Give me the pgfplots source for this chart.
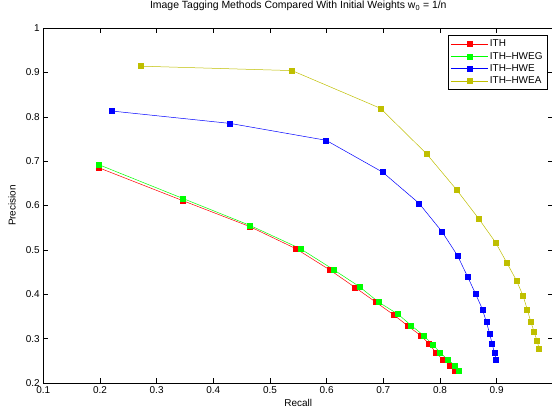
\documentclass[border=0pt]{standalone}
\usepackage{pgfplots}
\pgfplotsset{compat=1.18}
\usepackage{fontspec}
\setmainfont{Liberation Sans}
\definecolor{mlred}{RGB}{255,0,0}
\definecolor{mlgreen}{RGB}{0,255,0}
\definecolor{mlblue}{RGB}{0,0,255}
\definecolor{mlyellow}{RGB}{191,191,0}

\begin{document}
\begin{tikzpicture}
\begin{axis}[
    at={(0,0)}, anchor=south west,
    width=510bp, height=355bp,
    scale only axis,
    xmin=0.1, xmax=1, ymin=0.2, ymax=1,
    xtick={0.1,0.2,0.3,0.4,0.5,0.6,0.7,0.8,0.9},
    ytick={0.2,0.3,0.4,0.5,0.6,0.7,0.8,0.9,1},
    tick align=inside,
    major tick length=5bp,
    axis line style={line width=0.6pt},
    tick style={black, line width=0.5pt},
    /pgf/number format/assume math mode=true,
    tick label style={font=\fontsize{10}{12}\selectfont},
    label style={font=\fontsize{10}{12}\selectfont},
    title style={font=\fontsize{10.5}{12}\selectfont, at={(axis description cs:0.5,1.045)}, anchor=center},
    title={Image Tagging Methods Compared With Initial Weights w\textsubscript{0} = 1/n},
    xlabel={Recall},
    ylabel={Precision},
    xlabel style={at={(axis description cs:0.5,-0.056)}, anchor=center},
    ylabel style={at={(axis description cs:-0.061,0.5)}, anchor=center},
    legend style={at={(1,1)}, anchor=north east, xshift=-6bp, yshift=-7bp,
        font=\fontsize{10}{11}\selectfont, draw=black, line width=0.6pt,
        row sep=0pt, inner sep=2.5pt},
    legend cell align=left,
    legend image code/.code={%
        \draw[mark repeat=2, mark phase=2]
            plot coordinates {(0cm,0cm) (0.65cm,0cm) (1.3cm,0cm)};},
    every axis plot/.append style={line width=0.5pt, mark=square*, mark size=2.5bp},
]

% ITH
\addplot[color=mlred, mark options={fill=mlred}] coordinates {
(0.198,0.685) (0.346,0.611) (0.4635,0.553) (0.546,0.5025) (0.606,0.4545)
(0.650,0.4155) (0.687,0.382) (0.719,0.353) (0.744,0.328) (0.766,0.307)
(0.781,0.288) (0.793,0.268) (0.805,0.2525) (0.818,0.240) (0.8265,0.2266)
};
\addlegendentry{ITH}

% ITH-HWEG
\addplot[color=mlgreen, mark options={fill=mlgreen}] coordinates {
(0.198,0.692) (0.346,0.616) (0.465,0.555) (0.554,0.5025) (0.612,0.4556)
(0.658,0.417) (0.692,0.382) (0.726,0.355) (0.749,0.330) (0.771,0.307)
(0.787,0.287) (0.800,0.269) (0.813,0.253) (0.826,0.240) (0.834,0.2266)
};
\addlegendentry{ITH--HWEG}

% ITH-HWE
\addplot[color=mlblue, mark options={fill=mlblue}] coordinates {
(0.220,0.813) (0.4295,0.785) (0.599,0.747) (0.699,0.675) (0.763,0.605)
(0.8036,0.541) (0.831,0.487) (0.849,0.439) (0.863,0.4005) (0.875,0.366)
(0.882,0.337) (0.888,0.310) (0.892,0.2885) (0.896,0.269) (0.899,0.2534)
};
\addlegendentry{ITH--HWE}

% ITH-HWEA
\addplot[color=mlyellow, mark options={fill=mlyellow}] coordinates {
(0.272,0.914) (0.539,0.904) (0.695,0.819) (0.776,0.717) (0.829,0.636)
(0.868,0.571) (0.898,0.517) (0.918,0.471) (0.935,0.431) (0.9465,0.397)
(0.954,0.366) (0.960,0.339) (0.966,0.316) (0.971,0.296) (0.975,0.278)
};
\addlegendentry{ITH--HWEA}

\end{axis}
\pgfresetboundingbox
\path[use as bounding box] (-43.3bp,-31bp) rectangle (508.7bp,383bp);
\end{tikzpicture}
\end{document}
